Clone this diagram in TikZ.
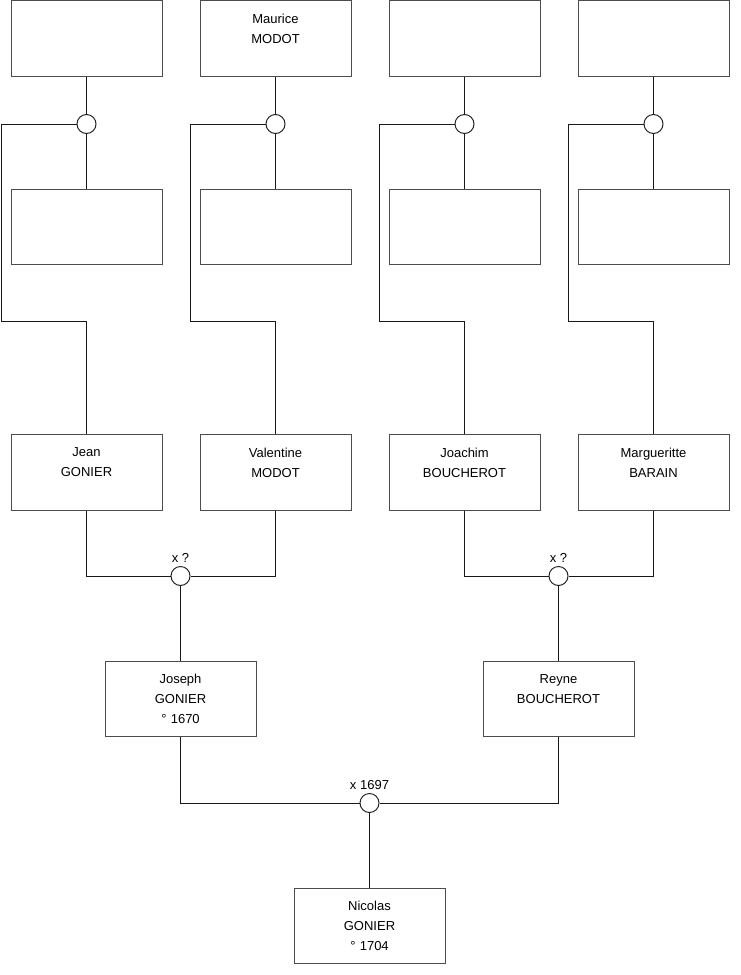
\documentclass[tikz,border=0pt]{standalone}
\usepackage{fontspec}
\setmainfont{Liberation Sans}
\usetikzlibrary{positioning}
\tikzset{
  fiche/.style={rectangle, draw=black!70, line width=1pt, fill=white,
    minimum width=151pt, minimum height=75.5pt, text width=145pt,
    align=center, inner sep=0pt, font=\fontsize{13}{20}\selectfont},
  union/.style={circle, draw=black!85, line width=1pt, fill=white,
    minimum size=19pt, inner sep=0pt},
  every label/.style={font=\fontsize{13}{14}\selectfont},
  lien/.style={line width=1pt, black!90}
}

\begin{document}
\begin{tikzpicture}[x=1pt, y=-1pt]
  \fill[white] (0,0) rectangle (740,975);
  \useasboundingbox (0,0) rectangle (740,975);

  % grands-parents
  \node[fiche] (gp1) at (86.5,38.5) {};
  \node[fiche] (gp2) at (275.5,38.5) {Maurice\\MODOT\\~};
  \node[fiche] (gp3) at (464.5,38.5) {};
  \node[fiche] (gp4) at (653.5,38.5) {};
  \node[fiche] (gm1) at (86.5,227) {};
  \node[fiche] (gm2) at (275.5,227) {};
  \node[fiche] (gm3) at (464.5,227) {};
  \node[fiche] (gm4) at (653.5,227) {};
  \node[union] (u1) at (86.5,124) {};
  \node[union] (u2) at (275.5,124) {};
  \node[union] (u3) at (464.5,124) {};
  \node[union] (u4) at (653.5,124) {};

  % parents
  \node[fiche] (jean) at (86.5,472.5) {Jean\\GONIER\\~};
  \node[fiche] (valentine) at (275.5,472.5) {Valentine\\MODOT\\~};
  \node[fiche] (joachim) at (464.5,472.5) {Joachim\\BOUCHEROT\\~};
  \node[fiche] (margueritte) at (653.5,472.5) {Margueritte\\BARAIN\\~};
  \node[union, label=above:x ?] (m1) at (180.5,576) {};
  \node[union, label=above:x ?] (m2) at (558.5,576) {};

  \node[fiche] (joseph) at (180.5,699) {Joseph\\GONIER\\° 1670};
  \node[fiche] (reyne) at (558.5,699) {Reyne\\BOUCHEROT\\~};
  \node[union, label=above:x 1697] (m3) at (369.5,803) {};
  \node[fiche] (nicolas) at (369.5,926) {Nicolas\\GONIER\\° 1704};

  \coordinate (r1) at (1,321);
  \coordinate (r2) at (190.5,321);
  \coordinate (r3) at (379.5,321);
  \coordinate (r4) at (568.5,321);

  \foreach \i/\enf in {1/jean, 2/valentine, 3/joachim, 4/margueritte} {
    \draw[lien] (gp\i) -- (u\i);
    \draw[lien] (u\i) -- (gm\i);
    \draw[lien] (u\i.west) -| (r\i) -| (\enf.north);
  }

  \draw[lien] (jean.south) |- (m1.west);
  \draw[lien] (valentine.south) |- (m1.east);
  \draw[lien] (m1) -- (joseph);
  \draw[lien] (joachim.south) |- (m2.west);
  \draw[lien] (margueritte.south) |- (m2.east);
  \draw[lien] (m2) -- (reyne);
  \draw[lien] (joseph.south) |- (m3.west);
  \draw[lien] (reyne.south) |- (m3.east);
  \draw[lien] (m3) -- (nicolas);
\end{tikzpicture}
\end{document}
